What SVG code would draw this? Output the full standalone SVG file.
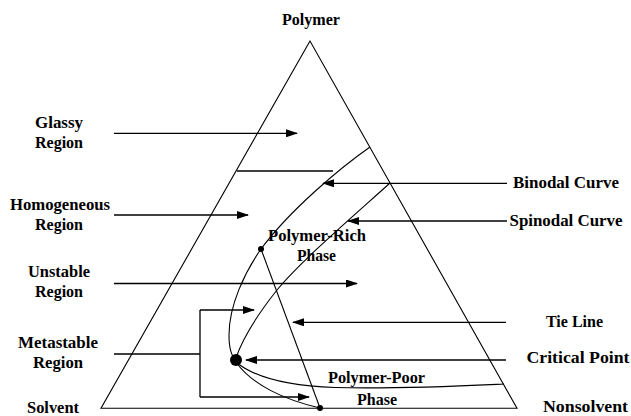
<svg xmlns="http://www.w3.org/2000/svg" width="631" height="416" viewBox="0 0 631 416">
<defs>
<marker id="ah" markerWidth="12" markerHeight="8" refX="11" refY="4" orient="auto" markerUnits="userSpaceOnUse">
<path d="M0,0 L12,4 L0,8 Z" fill="#000"/>
</marker>
<style>
text{font-family:"Liberation Serif","Times New Roman",serif;font-weight:bold;font-size:16px;fill:#000;text-anchor:middle}
.ln{fill:none;stroke:#000;stroke-width:1.1}
.ar{fill:none;stroke:#000;stroke-width:1.3;marker-end:url(#ah)}
.pl{fill:none;stroke:#000;stroke-width:1.3}
</style>
</defs>
<rect width="631" height="416" fill="#fff"/>
<g id="triangle">
<path class="ln" d="M310,41 L101,408.3 L517,408.3 Z"/>
</g>
<g id="curves">
<path id="binodal" class="ln" d="M370,147 C340,168 290,210 261,249 C245,272 229,305 229,335 C229,348 231,356 236,360"/>
<path id="spinodal" class="ln" d="M390,183 C350,219 300,262 277,290 C258,314 242,340 236,358"/>
<path id="poor-branch" class="ln" d="M236,362 C255,378 290,386 335,387.5 C400,389 460,386 504,384"/>
<path id="lower-branch" class="ln" d="M236,362 C252,385 285,400 320,408"/>
<path id="glassy-boundary" class="pl" d="M237,171 L333,171"/>
<path id="tie-line" class="ln" d="M261,249 L320,408"/>
</g>
<g id="points">
<circle id="critical-point" cx="236" cy="360" r="6"/>
<circle id="rich-point" cx="261" cy="249" r="3"/>
<circle id="poor-point" cx="320" cy="408" r="3"/>
</g>
<g id="connectors">
<path class="ar" d="M114,133.3 L297,133.3"/>
<path class="ar" d="M114,215 L248,215"/>
<path class="ar" d="M114,283.5 L357,283.5"/>
<path class="pl" d="M114,354 L200,354 M200,310 L200,397"/>
<path class="ar" d="M200,310 L254,310"/>
<path class="ar" d="M200,397 L309,397"/>
<path class="ar" d="M507,183.3 L323,183.3"/>
<path class="ar" d="M507,221 L348,221"/>
<path class="ar" d="M506,322.3 L293,322.3"/>
<path class="ar" d="M506,360 L246,360"/>
</g>
<g id="labels">
<text x="311" y="25" textLength="58" lengthAdjust="spacingAndGlyphs">Polymer</text>
<text x="59" y="128.3" textLength="48" lengthAdjust="spacingAndGlyphs">Glassy</text>
<text x="59" y="148.3" textLength="48" lengthAdjust="spacingAndGlyphs">Region</text>
<text x="60" y="210" textLength="100" lengthAdjust="spacingAndGlyphs">Homogeneous</text>
<text x="59" y="230" textLength="48" lengthAdjust="spacingAndGlyphs">Region</text>
<text x="59" y="276.7" textLength="62" lengthAdjust="spacingAndGlyphs">Unstable</text>
<text x="59" y="296.7" textLength="48" lengthAdjust="spacingAndGlyphs">Region</text>
<text x="58" y="348.3" textLength="80" lengthAdjust="spacingAndGlyphs">Metastable</text>
<text x="58" y="368.3" textLength="50" lengthAdjust="spacingAndGlyphs">Region</text>
<text x="53" y="413" textLength="52" lengthAdjust="spacingAndGlyphs">Solvent</text>
<text x="585.5" y="412" textLength="85" lengthAdjust="spacingAndGlyphs">Nonsolvent</text>
<text x="566" y="188.3" textLength="106" lengthAdjust="spacingAndGlyphs">Binodal Curve</text>
<text x="566" y="226" textLength="113" lengthAdjust="spacingAndGlyphs">Spinodal Curve</text>
<text x="574.5" y="326.7" textLength="57" lengthAdjust="spacingAndGlyphs">Tie Line</text>
<text x="578" y="363.3" textLength="103" lengthAdjust="spacingAndGlyphs">Critical Point</text>
<text x="317" y="240.7" textLength="98" lengthAdjust="spacingAndGlyphs">Polymer-Rich</text>
<text x="316.5" y="260.7" textLength="39" lengthAdjust="spacingAndGlyphs">Phase</text>
<text x="376.5" y="383.3" textLength="97" lengthAdjust="spacingAndGlyphs">Polymer-Poor</text>
<text x="377" y="405" textLength="40" lengthAdjust="spacingAndGlyphs">Phase</text>
</g>
</svg>
